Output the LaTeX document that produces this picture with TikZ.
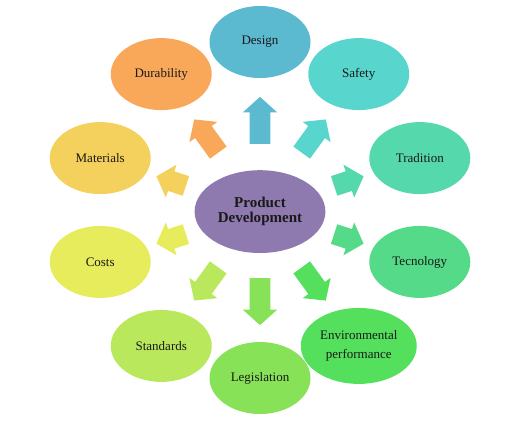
\documentclass[tikz,border=0pt]{standalone}
\usepackage{fontspec}
\setmainfont{Liberation Serif}
\usepackage{xcolor}
\usetikzlibrary{shapes.geometric,shapes.arrows}

\definecolor{cdev}{HTML}{8F7AB0}
\definecolor{cdesign}{HTML}{5BB9D0}
\definecolor{csafety}{HTML}{58D5CC}
\definecolor{ctradition}{HTML}{54D8AC}
\definecolor{ctecnology}{HTML}{54DA88}
\definecolor{cenv}{HTML}{54E05C}
\definecolor{clegis}{HTML}{88E258}
\definecolor{cstandards}{HTML}{BAE85C}
\definecolor{ccosts}{HTML}{E6EC5C}
\definecolor{cmaterials}{HTML}{F4D05C}
\definecolor{cdurability}{HTML}{F9A85A}

\tikzstyle{topic} = [ellipse, draw=none, minimum width=2.525cm, minimum height=1.8cm,
                     inner sep=0pt, align=center, text=black!90]
\tikzstyle{spoke} = [single arrow, draw=none, inner xsep=0pt, inner ysep=0.25cm,
                     single arrow head extend=0.175cm, single arrow tip angle=96]

\begin{document}
\begin{tikzpicture}[font=\fontsize{9.25}{14}\selectfont]
    \useasboundingbox (-6.5,-5.25) rectangle (6.5,5.25);

    % centre
    \node[ellipse, fill=cdev, minimum width=3.27cm, minimum height=2.07cm, inner sep=0pt,
          align=center, text=black!90, font=\fontsize{10.7}{11}\selectfont\bfseries]
          (dev) at (0,-0.04) {Product\\Development};

    % topics
    \node[topic, fill=cdesign]     (design)      at (90:4.2)   {Design};
    \node[topic, fill=csafety]     (safety)      at (54:4.2)   {Safety};
    \node[topic, fill=ctradition]  (tradition)   at (18:4.2)   {Tradition};
    \node[topic, fill=ctecnology]  (tecnology)   at (-18:4.2)  {Tecnology};
    \node[topic, fill=cenv, minimum width=2.9cm, minimum height=1.9cm]
                                   (env)         at (-54:4.2)  {Environmental\\performance};
    \node[topic, fill=clegis]      (legislation) at (-90:4.2)  {Legislation};
    \node[topic, fill=cstandards]  (standards)   at (-126:4.2) {Standards};
    \node[topic, fill=ccosts]      (costs)       at (-162:4.2) {Costs};
    \node[topic, fill=cmaterials]  (materials)   at (162:4.2)  {Materials};
    \node[topic, fill=cdurability] (durability)  at (126:4.2)  {Durability};

    % arrows
    \node[spoke, fill=cdesign,     minimum height=1.175cm, rotate=90]   (to-design)      at (90:2.125)  {};
    \node[spoke, fill=csafety,     minimum height=1.025cm, rotate=54]   (to-safety)      at (54:2.17)   {};
    \node[spoke, fill=ctradition,  minimum height=0.775cm, rotate=18]   (to-tradition)   at (18:2.22)   {};
    \node[spoke, fill=ctecnology,  minimum height=0.775cm, rotate=-18]  (to-tecnology)   at (-18:2.22)  {};
    \node[spoke, fill=cenv,        minimum height=1.025cm, rotate=-54]  (to-env)         at (-54:2.17)  {};
    \node[spoke, fill=clegis,      minimum height=1.175cm, rotate=-90]  (to-legislation) at (-90:2.175) {};
    \node[spoke, fill=cstandards,  minimum height=1.025cm, rotate=-126] (to-standards)   at (-126:2.17) {};
    \node[spoke, fill=ccosts,      minimum height=0.775cm, rotate=-162] (to-costs)       at (-162:2.22) {};
    \node[spoke, fill=cmaterials,  minimum height=0.775cm, rotate=162]  (to-materials)   at (162:2.22)  {};
    \node[spoke, fill=cdurability, minimum height=1.025cm, rotate=126]  (to-durability)  at (126:2.17)  {};
\end{tikzpicture}
\end{document}
